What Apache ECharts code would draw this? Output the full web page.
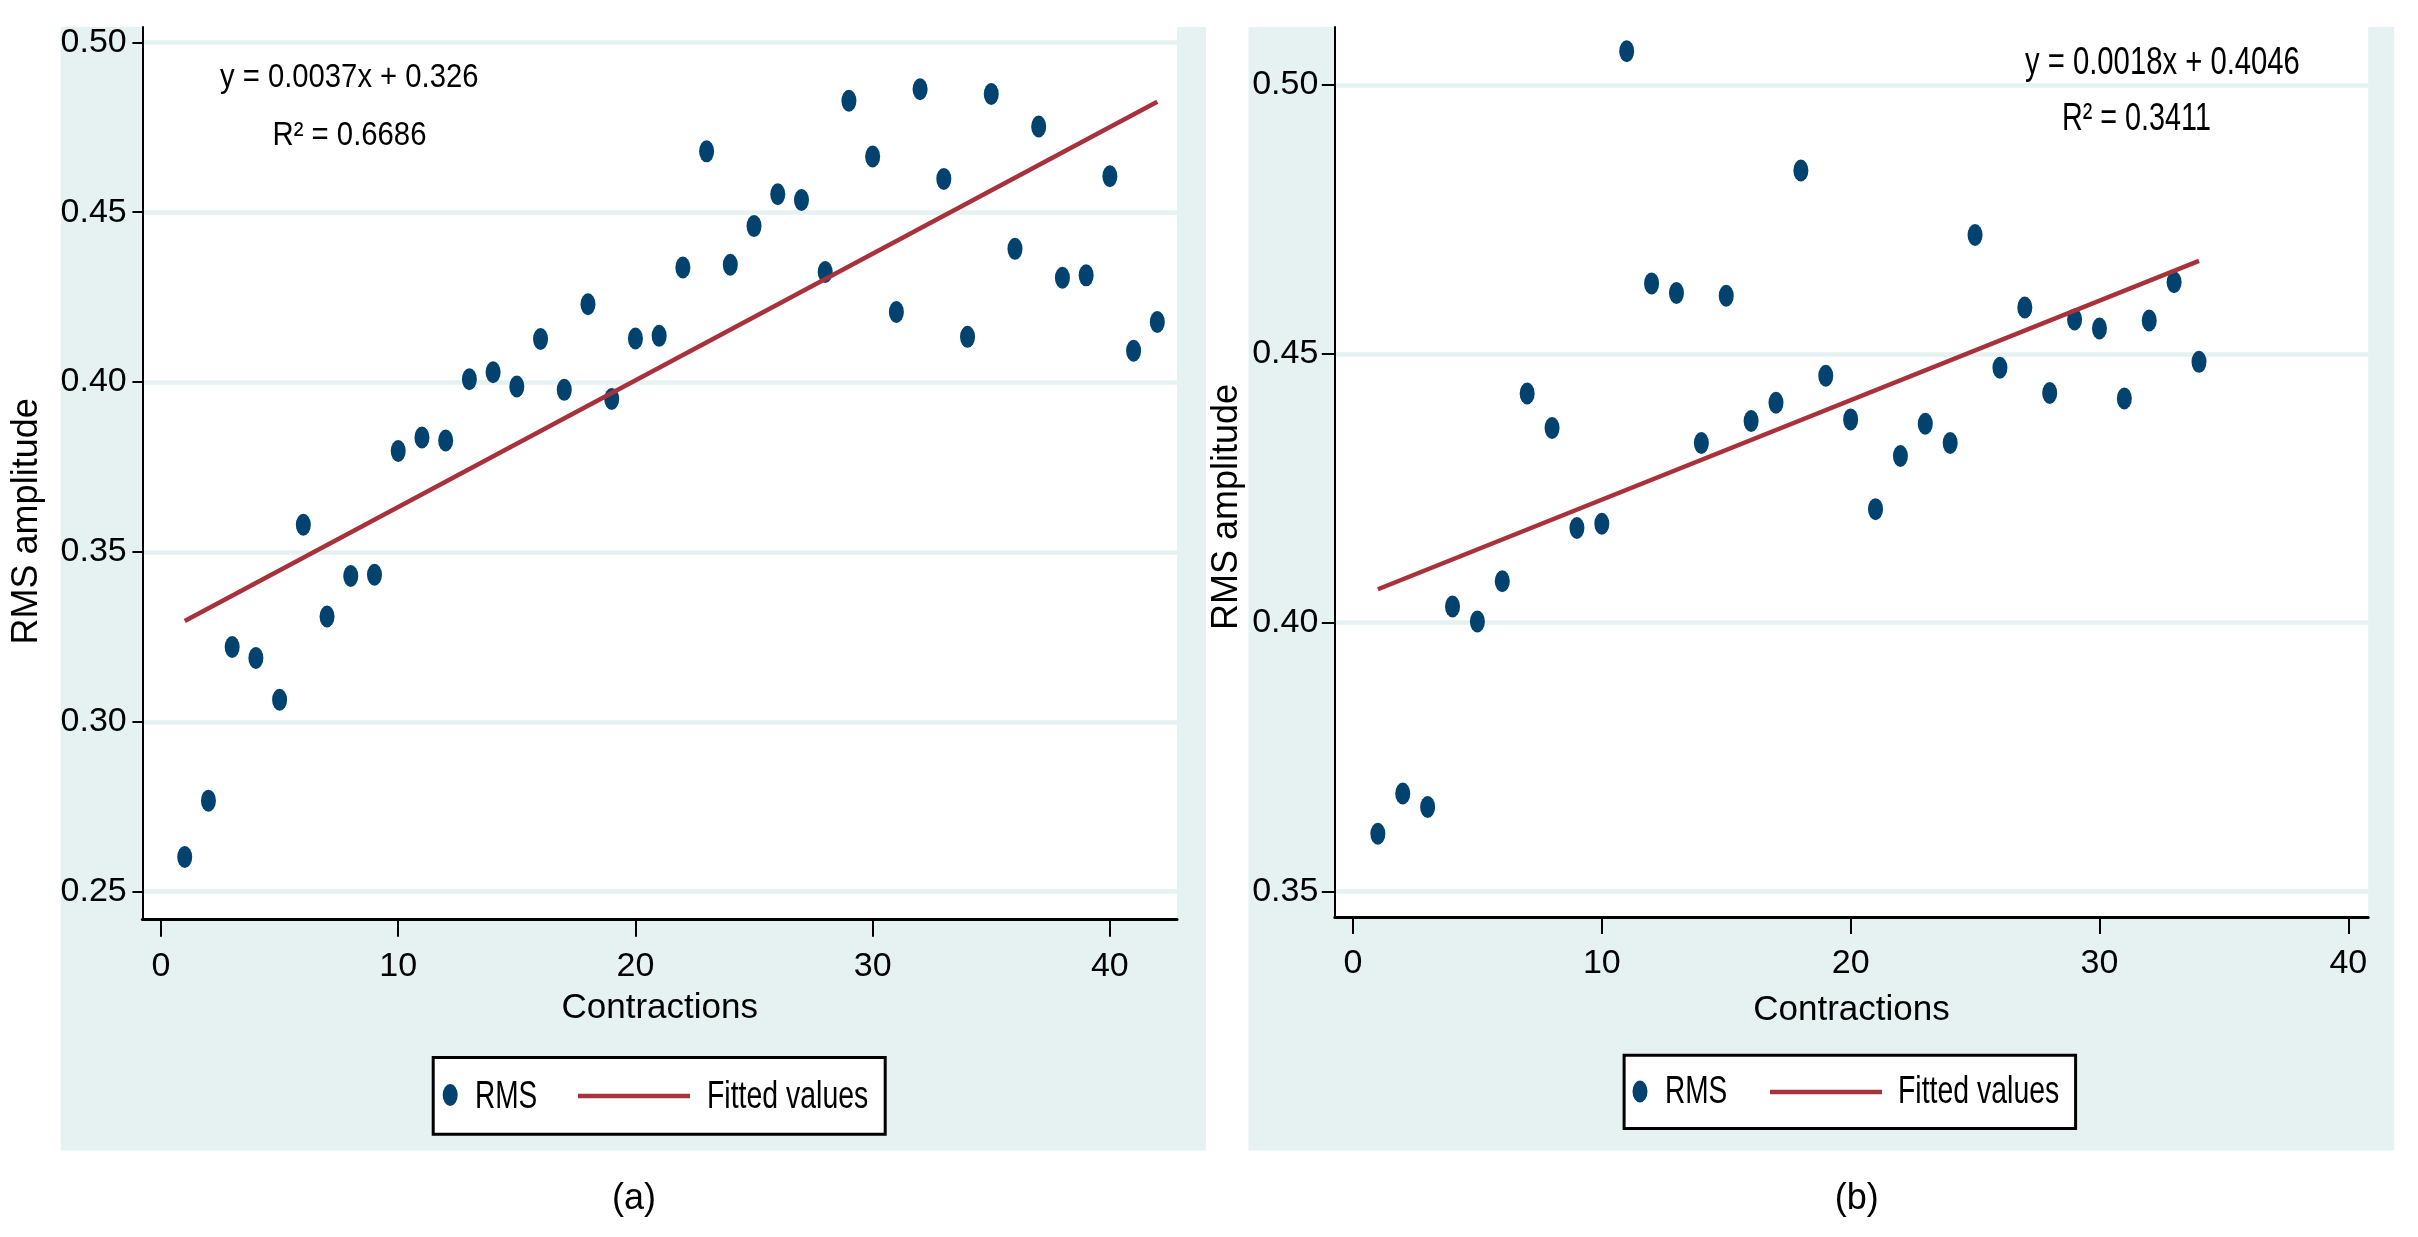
<!DOCTYPE html>
<html>
<head>
<meta charset="utf-8">
<script src="https://cdn.jsdelivr.net/npm/echarts@6/dist/echarts.min.js"></script>
<style>
html,body{margin:0;padding:0;background:#fff;}
#c{width:2418px;height:1237px;}
</style>
</head>
<body>
<div id="c"></div>
<script>
// ---------- data ----------
const contractionsA = [1,2,3,4,5,6,7,8,9,10,11,12,13,14,15,16,17,18,19,20,21,22,23,24,25,26,27,28,29,30,31,32,33,34,35,36,37,38,39,40,41,42];
const rmsA = [0.2602,0.2768,0.3220,0.3188,0.3065,0.3580,0.3310,0.3429,0.3433,0.3797,0.3837,0.3828,0.4008,0.4029,0.3987,0.4127,0.3977,0.4229,0.3950,0.4128,0.4136,0.4337,0.4679,0.4345,0.4459,0.4553,0.4536,0.4324,0.4828,0.4664,0.4206,0.4862,0.4598,0.4133,0.4848,0.4392,0.4752,0.4307,0.4314,0.4606,0.4092,0.4177];
const fitXA = [1, 42];
const fitYA = [0.3297, 0.4825];

const contractionsB = [1,2,3,4,5,6,7,8,9,10,11,12,13,14,15,16,17,18,19,20,21,22,23,24,25,26,27,28,29,30,31,32,33,34];
const rmsB = [0.3607,0.3682,0.3657,0.4030,0.4002,0.4077,0.4426,0.4362,0.4176,0.4184,0.5063,0.4631,0.4613,0.4334,0.4608,0.4375,0.4409,0.4841,0.4459,0.4378,0.4211,0.4310,0.4370,0.4334,0.4721,0.4474,0.4586,0.4427,0.4564,0.4547,0.4417,0.4562,0.4633,0.4485];
const fitXB = [1, 34];
const fitYB = [0.4062, 0.4673];

const xTicks = [0, 10, 20, 30, 40];
const yTicksA = [0.25, 0.30, 0.35, 0.40, 0.45, 0.50];
const yTicksB = [0.35, 0.40, 0.45, 0.50];

const eqA = ['y = 0.0037x + 0.326', 'R\u00B2 = 0.6686'];
const eqB = ['y = 0.0018x + 0.4046', 'R\u00B2 = 0.3411'];
const panelLabels = ['(a)', '(b)'];
const seriesNames = ['RMS', 'Fitted values'];
const xName = 'Contractions';
const yName = 'RMS amplitude';

// ---------- styles ----------
const NAVY = '#01426E';
const MAROON = '#A8323C';
const PANEL = '#E6F1F1';
const SANS = '"Liberation Sans", Arial, Helvetica, sans-serif';
const ELLIPSE = 'path://M0,11 A7.5,11 0 1,0 15,11 A7.5,11 0 1,0 0,11 Z';

function pairs(xs, ys) { return xs.map((x, i) => [x, ys[i]]); }

function xAxisCfg(gi, min, max, margin, nameGap) {
  return {
    type: 'value', gridIndex: gi, min: min, max: max,
    axisLine: { show: true, onZero: false, lineStyle: { color: '#000', width: 3 } },
    axisTick: { show: true, customValues: xTicks, length: 17, lineStyle: { color: '#000', width: 2 } },
    axisLabel: { customValues: xTicks, margin: margin, fontFamily: SANS, fontSize: 34, color: '#000' },
    splitLine: { show: false },
    name: xName, nameLocation: 'middle', nameGap: nameGap,
    nameTextStyle: { fontFamily: SANS, fontSize: 35, color: '#000' }
  };
}
function yAxisCfg(gi, min, max, ticks, tickLen, margin, nameGap, shift) {
  return {
    type: 'value', gridIndex: gi, min: min, max: max,
    axisLine: { show: true, onZero: false, lineStyle: { color: '#000', width: 2 } },
    axisTick: { show: true, customValues: ticks, length: tickLen, lineStyle: { color: '#000', width: 2 } },
    axisLabel: { customValues: ticks, margin: margin, fontFamily: SANS, fontSize: 34, color: '#000',
                 formatter: v => Number(v).toFixed(2) },
    splitLine: { show: true, lineStyle: { color: PANEL, width: 4.5 } },
    name: yName, nameLocation: 'middle', nameRotate: 90, nameGap: nameGap,
    nameTextStyle: { fontFamily: SANS, fontSize: 36, color: '#000', padding: [0, shift, 0, 0] }
  };
}
// legend components draw the keys (marker / line); their labels are condensed text drawn below
function legendPair(lx, ltop, rx, rtop) {
  const ts = { fontSize: 1, lineHeight: 1, color: 'rgba(0,0,0,0)' };
  return [
    { data: [{ name: seriesNames[0], icon: ELLIPSE, itemStyle: { color: NAVY, opacity: 1 } }], left: lx, top: ltop,
      itemWidth: 15, itemHeight: 22, padding: 0, selectedMode: false, formatter: () => '', textStyle: ts },
    { data: [{ name: seriesNames[1], icon: 'rect', itemStyle: { color: MAROON, borderWidth: 0 } }], left: rx, top: rtop,
      itemWidth: 112, itemHeight: 4.5, padding: 0, selectedMode: false, formatter: () => '', textStyle: ts }
  ];
}
function txt(x, y, s, size, align, sx) {
  return { type: 'text', x: x, y: y, scaleX: sx || 1, z: 10,
    style: { text: s, font: size + 'px ' + SANS, fill: '#000', textAlign: align, textVerticalAlign: 'middle' } };
}

const chart = echarts.init(document.getElementById('c'), null, { renderer: 'canvas', width: 2418, height: 1237 });

const option = {
  animation: false,
  backgroundColor: '#fff',
  grid: [
    { left: 142.4, top: 27, width: 1034.6, height: 892.7, show: true, backgroundColor: '#fff', borderWidth: 0 },
    { left: 1334.8, top: 27, width: 1033.4, height: 889.9, show: true, backgroundColor: '#fff', borderWidth: 0 }
  ],
  xAxis: [
    xAxisCfg(0, -0.784, 42.83, 30, 71),
    xAxisCfg(1, -0.731, 40.80, 30, 76)
  ],
  yAxis: [
    yAxisCfg(0, 0.24176, 0.5045, yTicksA, 10, 15.7, 97, 96),
    yAxisCfg(1, 0.34524, 0.5108, yTicksB, 13, 16.5, 90, 70)
  ],
  legend: [].concat(
    legendPair(442.7, 1084, 578, 1093.75),
    legendPair(1632.5, 1080.5, 1770, 1089.75)
  ),
  graphic: [
    { type: 'rect', z: -10, shape: { x: 60.7, y: 27, width: 1145.3, height: 1123.5 }, style: { fill: PANEL } },
    { type: 'rect', z: -10, shape: { x: 1248.5, y: 27, width: 1145.7, height: 1123.5 }, style: { fill: PANEL } },
    { type: 'rect', z: 1, shape: { x: 433.2, y: 1057.5, width: 452, height: 76.7 }, style: { fill: '#fff', stroke: '#000', lineWidth: 3 } },
    { type: 'rect', z: 1, shape: { x: 1624.1, y: 1055.2, width: 451.5, height: 73.3 }, style: { fill: '#fff', stroke: '#000', lineWidth: 3 } },
    // regression annotations
    txt(220, 77.5, eqA[0], 34, 'left', 0.86),
    txt(272.5, 135.3, eqA[1], 34, 'left', 0.862),
    txt(2025, 63.3, eqB[0], 39, 'left', 0.75),
    txt(2062, 119, eqB[1], 39, 'left', 0.737),
    // legend labels
    txt(475, 1097, seriesNames[0], 39.5, 'left', 0.71),
    txt(707, 1097, seriesNames[1], 39.5, 'left', 0.72),
    txt(1665, 1092.5, seriesNames[0], 39.5, 'left', 0.71),
    txt(1898, 1092.5, seriesNames[1], 39.5, 'left', 0.72),
    // panel captions
    txt(634, 1199, panelLabels[0], 36, 'center'),
    txt(1856.7, 1199, panelLabels[1], 36, 'center')
  ],
  series: [
    { type: 'scatter', name: seriesNames[0], xAxisIndex: 0, yAxisIndex: 0, data: pairs(contractionsA, rmsA),
      symbol: ELLIPSE, symbolSize: [15, 22], itemStyle: { color: NAVY, opacity: 1 }, z: 2, emphasis: { disabled: true } },
    { type: 'line', name: seriesNames[1], xAxisIndex: 0, yAxisIndex: 0, data: pairs(fitXA, fitYA),
      symbol: 'none', lineStyle: { color: MAROON, width: 4.5 }, itemStyle: { color: MAROON }, z: 3, emphasis: { disabled: true } },
    { type: 'scatter', name: seriesNames[0], xAxisIndex: 1, yAxisIndex: 1, data: pairs(contractionsB, rmsB),
      symbol: ELLIPSE, symbolSize: [15, 22], itemStyle: { color: NAVY, opacity: 1 }, z: 2, emphasis: { disabled: true } },
    { type: 'line', name: seriesNames[1], xAxisIndex: 1, yAxisIndex: 1, data: pairs(fitXB, fitYB),
      symbol: 'none', lineStyle: { color: MAROON, width: 4.5 }, itemStyle: { color: MAROON }, z: 3, emphasis: { disabled: true } }
  ]
};
chart.setOption(option);
</script>
</body>
</html>
